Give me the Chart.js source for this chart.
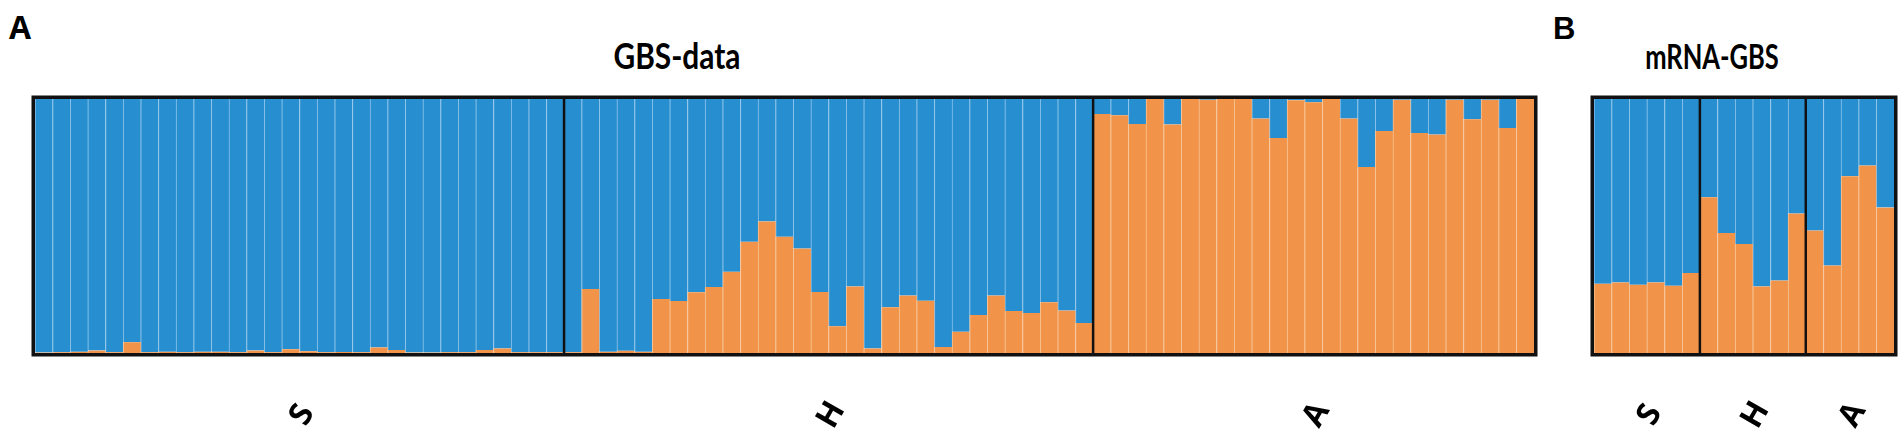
<!DOCTYPE html>
<html>
<head>
<meta charset="utf-8">
<script src="https://cdn.jsdelivr.net/npm/chart.js@4"></script>
<style>
  body { margin: 0; background: #fff; width: 1904px; height: 433px; overflow: hidden; position: relative; }
  .txt { position: absolute; color: #000; white-space: nowrap; }
  .title { width: 400px; text-align: center; transform-origin: 50% 50%; }
  canvas { position: absolute; }
</style>
</head>
<body>
<div class="txt" style="left:9px;top:11px;font:bold 32px/1 'Open Sans';">A</div>
<div class="txt" style="left:1553px;top:13px;font:bold 31px/1 'Liberation Sans';">B</div>
<div class="txt title" style="left:477px;top:37px;font:bold 36px/1 Lato;transform:scaleX(0.83);">GBS-data</div>
<div class="txt title" style="left:1512px;top:39px;font:bold 34px/1 Lato;transform:scaleX(0.75);">mRNA-GBS</div>
<canvas id="gbsChart" width="1509" height="339" style="left:30px;top:94px;"></canvas>
<canvas id="mrnaChart" width="310" height="339" style="left:1589px;top:94px;"></canvas>
<script>
// group names shown under each block
const groupNames = ['S', 'H', 'A'];

// orange (cluster 2) share per individual, GBS-data
const gbsS = [0.002, 0.003, 0.005, 0.010, 0.003, 0.042, 0.003, 0.005, 0.003, 0.005,
              0.005, 0.003, 0.010, 0.003, 0.015, 0.007, 0.003, 0.004, 0.003, 0.022,
              0.012, 0.002, 0.002, 0.003, 0.003, 0.012, 0.018, 0.003, 0.003, 0.003];
const gbsH = [0.003, 0.252, 0.005, 0.009, 0.005, 0.213, 0.205, 0.239, 0.260, 0.320,
              0.438, 0.518, 0.458, 0.411, 0.240, 0.105, 0.262, 0.018, 0.180, 0.226,
              0.206, 0.024, 0.084, 0.150, 0.226, 0.165, 0.157, 0.200, 0.167, 0.118];
const gbsA = [0.941, 0.936, 0.902, 1.000, 0.900, 1.000, 0.997, 1.000, 1.000, 0.923,
              0.846, 0.995, 0.987, 1.000, 0.923, 0.732, 0.874, 0.997, 0.866, 0.860,
              0.997, 0.920, 0.997, 0.886, 1.000];

// orange share per individual, mRNA-GBS
const mrnaS = [0.273, 0.278, 0.269, 0.278, 0.265, 0.315];
const mrnaH = [0.613, 0.472, 0.429, 0.262, 0.285, 0.549];
const mrnaA = [0.482, 0.344, 0.696, 0.738, 0.573];

const BLUE = '#278ED0', BLUE_LINE = '#8CC3EA';
const ORANGE = '#F1944A', ORANGE_LINE = '#F8C596';

const framePlugin = {
    id: 'frame',
    afterDraw(chart, args, opts) {
        const { ctx, chartArea: a, scales: { x } } = chart;
        const step = x.getPixelForValue(1) - x.getPixelForValue(0);
        ctx.save();
        ctx.strokeStyle = '#111';
        ctx.fillStyle = '#000';
        ctx.font = "bold 32px 'Open Sans'";
        ctx.textAlign = 'center';
        ctx.textBaseline = 'middle';
        let start = 0;
        opts.sizes.forEach((n, i) => {
            if (i > 0) {
                const xx = x.getPixelForValue(start) - step / 2;
                ctx.lineWidth = 2.5;
                ctx.beginPath();
                ctx.moveTo(xx, a.top);
                ctx.lineTo(xx, a.bottom);
                ctx.stroke();
            }
            const mid = x.getPixelForValue(start + (n - 1) / 2);
            ctx.save();
            ctx.translate(mid + 3, a.bottom + 62);
            ctx.rotate(-Math.PI / 3);
            ctx.fillText(groupNames[i], 0, 0);
            ctx.restore();
            start += n;
        });
        ctx.lineWidth = 3.5;
        ctx.strokeRect(a.left - 1.75, a.top - 1.75, a.width + 3.5, a.height + 3.5);
        ctx.restore();
    }
};

function makeChart(id, groups) {
    const orange = [].concat(...groups);
    const labels = [];
    groups.forEach((g, i) => g.forEach((v, j) => labels.push(groupNames[i] + (j + 1))));
    return new Chart(document.getElementById(id).getContext('2d'), {
        type: 'bar',
        data: {
            labels: labels,
            datasets: [{
                label: 'Cluster 2',
                data: orange,
                backgroundColor: ORANGE,
                borderColor: ORANGE_LINE,
                borderWidth: { left: 1, right: 0, top: 0, bottom: 0 },
            }, {
                label: 'Cluster 1',
                data: orange.map(v => 1 - v),
                backgroundColor: BLUE,
                borderColor: BLUE_LINE,
                borderWidth: { left: 1, right: 0, top: 0, bottom: 0 },
            }]
        },
        options: {
            responsive: false,
            animation: false,
            layout: { padding: { left: 5, right: 5, top: 5, bottom: 80 } },
            datasets: { bar: { barPercentage: 1, categoryPercentage: 1 } },
            scales: {
                x: { stacked: true, display: false },
                y: { stacked: true, display: false, min: 0, max: 1 }
            },
            plugins: {
                legend: { display: false },
                tooltip: { enabled: false },
                frame: { sizes: groups.map(g => g.length) }
            }
        },
        plugins: [framePlugin]
    });
}

document.fonts.load("bold 32px 'Open Sans'").then(() => {
    makeChart('gbsChart', [gbsS, gbsH, gbsA]);
    makeChart('mrnaChart', [mrnaS, mrnaH, mrnaA]);
});
</script>
</body>
</html>
